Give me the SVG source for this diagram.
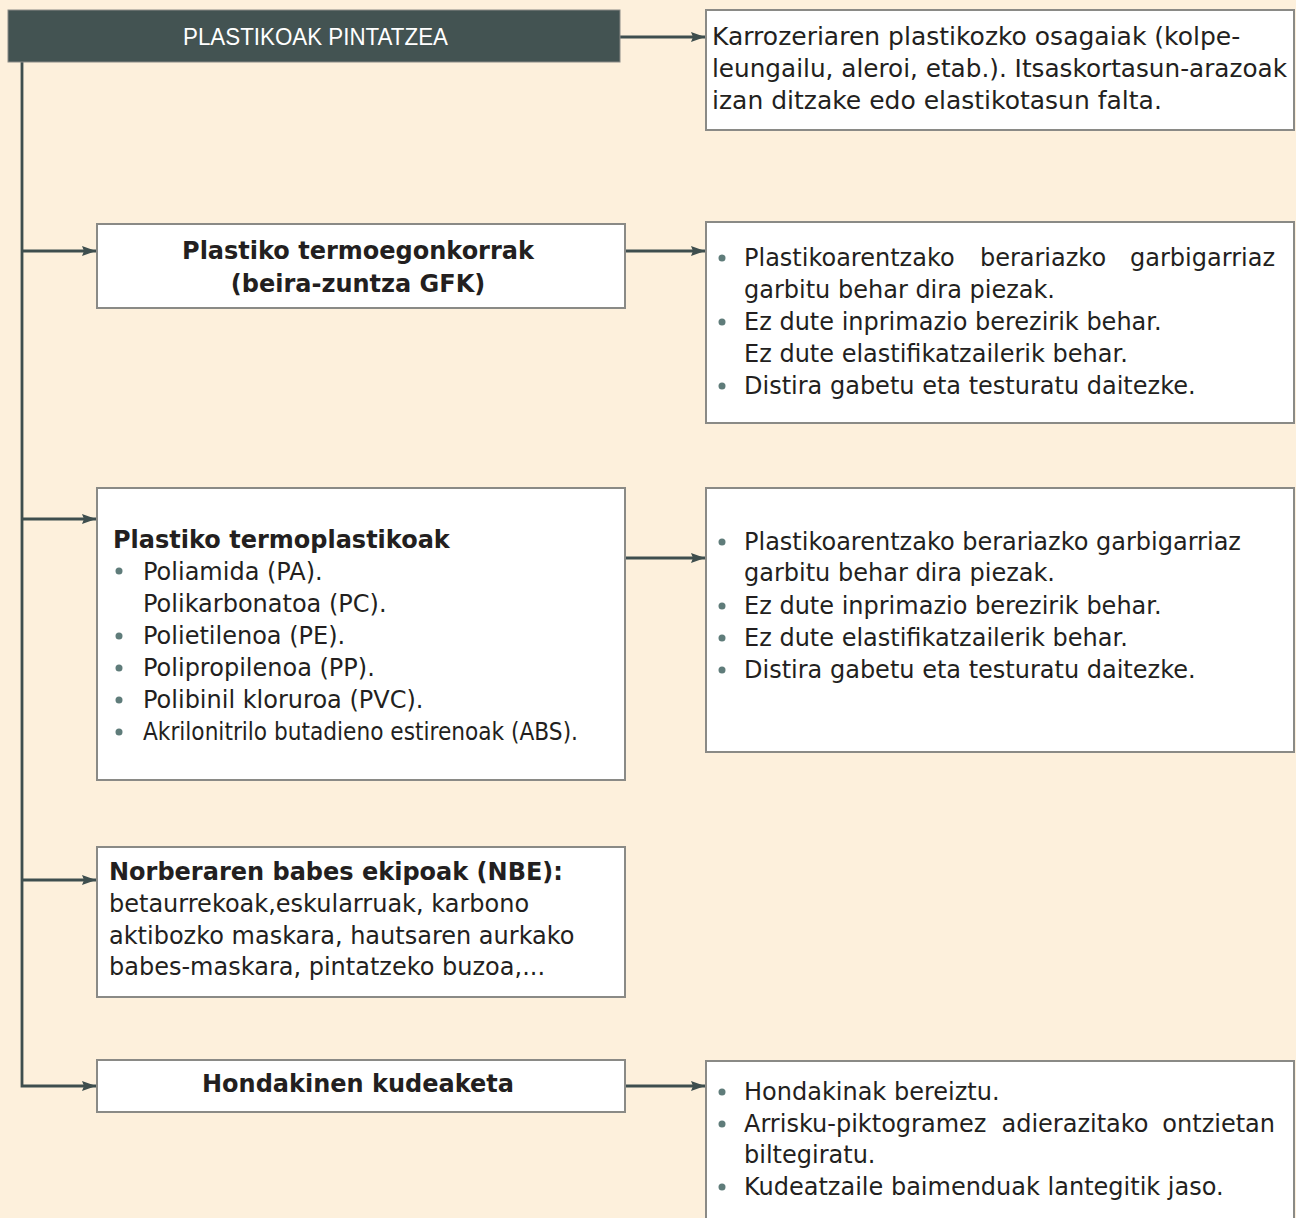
<svg xmlns="http://www.w3.org/2000/svg" width="1296" height="1218" viewBox="0 0 1296 1218">
<defs>
<style>
.box{fill:#ffffff;stroke:#8a8a86;stroke-width:2}
.hdr{fill:#435352;stroke:#8a8a86;stroke-width:1}
.t{font-family:"DejaVu Sans","Liberation Sans",sans-serif;font-size:24px;fill:#231f20}
.t25{font-family:"DejaVu Sans","Liberation Sans",sans-serif;font-size:25px;fill:#231f20}
.b{font-family:"DejaVu Sans","Liberation Sans",sans-serif;font-size:24px;font-weight:bold;fill:#231f20}
.h{font-family:"Liberation Sans","DejaVu Sans",sans-serif;font-size:23px;fill:#ffffff}
.dot{fill:#5f7c7a}
.ln{fill:none;stroke:#3e4e4e;stroke-width:2.8}
</style>
<marker id="ah" viewBox="0 0 14 10" refX="14" refY="5" markerWidth="14" markerHeight="10" markerUnits="userSpaceOnUse" orient="auto">
<path d="M0,0 L14,5 L0,10 L2,5 z" fill="#3e4e4e"/>
</marker>
</defs>
<rect x="0" y="0" width="1296" height="1218" fill="#fdf0dc"/>

<g id="connectors">
<path class="ln" d="M22,62 V1086 H96" marker-end="url(#ah)"/>
<path class="ln" d="M22,251 H96" marker-end="url(#ah)"/>
<path class="ln" d="M22,519 H96" marker-end="url(#ah)"/>
<path class="ln" d="M22,880 H96" marker-end="url(#ah)"/>
<path class="ln" d="M620,37 H705" marker-end="url(#ah)"/>
<path class="ln" d="M625,251 H705" marker-end="url(#ah)"/>
<path class="ln" d="M625,558 H705" marker-end="url(#ah)"/>
<path class="ln" d="M625,1086 H705" marker-end="url(#ah)"/>
</g>

<g id="header">
<rect class="hdr" x="8" y="10" width="612" height="52"/>
<text class="h" x="183" y="45" textLength="265" lengthAdjust="spacingAndGlyphs">PLASTIKOAK PINTATZEA</text>
</g>

<g id="desc-top">
<rect class="box" x="706" y="10" width="588" height="120"/>
<text class="t25" x="712" y="45">Karrozeriaren plastikozko osagaiak (kolpe-</text>
<text class="t25" x="712" y="77" textLength="575" lengthAdjust="spacingAndGlyphs">leungailu, aleroi, etab.). Itsaskortasun-arazoak</text>
<text class="t25" x="712" y="109">izan ditzake edo elastikotasun falta.</text>
</g>

<g id="termoegonkorrak">
<rect class="box" x="97" y="224" width="528" height="84"/>
<text class="b" x="358" y="259" text-anchor="middle">Plastiko termoegonkorrak</text>
<text class="b" x="358" y="292" text-anchor="middle">(beira-zuntza GFK)</text>
</g>

<g id="termoegonkorrak-info">
<rect class="box" x="706" y="222" width="588" height="201"/>
<circle class="dot" cx="722" cy="258" r="3.5"/>
<text class="t" x="744" y="266">Plastikoarentzako</text>
<text class="t" x="1043" y="266" text-anchor="middle">berariazko</text>
<text class="t" x="1275" y="266" text-anchor="end">garbigarriaz</text>
<text class="t" x="744" y="298">garbitu behar dira piezak.</text>
<circle class="dot" cx="722" cy="322" r="3.5"/>
<text class="t" x="744" y="330">Ez dute inprimazio berezirik behar.</text>
<text class="t" x="744" y="362">Ez dute elastifikatzailerik behar.</text>
<circle class="dot" cx="722" cy="386" r="3.5"/>
<text class="t" x="744" y="394">Distira gabetu eta testuratu daitezke.</text>
</g>

<g id="termoplastikoak">
<rect class="box" x="97" y="488" width="528" height="292"/>
<text class="b" x="113" y="548">Plastiko termoplastikoak</text>
<circle class="dot" cx="119" cy="571" r="3.5"/>
<text class="t" x="143" y="580">Poliamida (PA).</text>
<text class="t" x="143" y="612">Polikarbonatoa (PC).</text>
<circle class="dot" cx="119" cy="636" r="3.5"/>
<text class="t" x="143" y="644">Polietilenoa (PE).</text>
<circle class="dot" cx="119" cy="668" r="3.5"/>
<text class="t" x="143" y="676">Polipropilenoa (PP).</text>
<circle class="dot" cx="119" cy="700" r="3.5"/>
<text class="t" x="143" y="708">Polibinil kloruroa (PVC).</text>
<circle class="dot" cx="119" cy="732" r="3.5"/>
<text class="t" x="143" y="740" textLength="435" lengthAdjust="spacingAndGlyphs">Akrilonitrilo butadieno estirenoak (ABS).</text>
</g>

<g id="termoplastikoak-info">
<rect class="box" x="706" y="488" width="588" height="264"/>
<circle class="dot" cx="722" cy="542" r="3.5"/>
<text class="t" x="744" y="550">Plastikoarentzako berariazko garbigarriaz</text>
<text class="t" x="744" y="581">garbitu behar dira piezak.</text>
<circle class="dot" cx="722" cy="606" r="3.5"/>
<text class="t" x="744" y="614">Ez dute inprimazio berezirik behar.</text>
<circle class="dot" cx="722" cy="638" r="3.5"/>
<text class="t" x="744" y="646">Ez dute elastifikatzailerik behar.</text>
<circle class="dot" cx="722" cy="670" r="3.5"/>
<text class="t" x="744" y="678">Distira gabetu eta testuratu daitezke.</text>
</g>

<g id="nbe">
<rect class="box" x="97" y="847" width="528" height="150"/>
<text class="b" x="109" y="880">Norberaren babes ekipoak (NBE):</text>
<text class="t" x="109" y="912">betaurrekoak,eskularruak, karbono</text>
<text class="t" x="109" y="944">aktibozko maskara, hautsaren aurkako</text>
<text class="t" x="109" y="975">babes-maskara, pintatzeko buzoa,...</text>
</g>

<g id="hondakinak">
<rect class="box" x="97" y="1060" width="528" height="52"/>
<text class="b" x="358" y="1092" text-anchor="middle">Hondakinen kudeaketa</text>
</g>

<g id="hondakinak-info">
<rect class="box" x="706" y="1061" width="588" height="200"/>
<circle class="dot" cx="722" cy="1092" r="3.5"/>
<text class="t" x="744" y="1100">Hondakinak bereiztu.</text>
<circle class="dot" cx="722" cy="1124" r="3.5"/>
<text class="t" x="744" y="1132">Arrisku-piktogramez</text>
<text class="t" x="1075" y="1132" text-anchor="middle">adierazitako</text>
<text class="t" x="1275" y="1132" text-anchor="end">ontzietan</text>
<text class="t" x="744" y="1163">biltegiratu.</text>
<circle class="dot" cx="722" cy="1187" r="3.5"/>
<text class="t" x="744" y="1195">Kudeatzaile baimenduak lantegitik jaso.</text>
</g>
</svg>
